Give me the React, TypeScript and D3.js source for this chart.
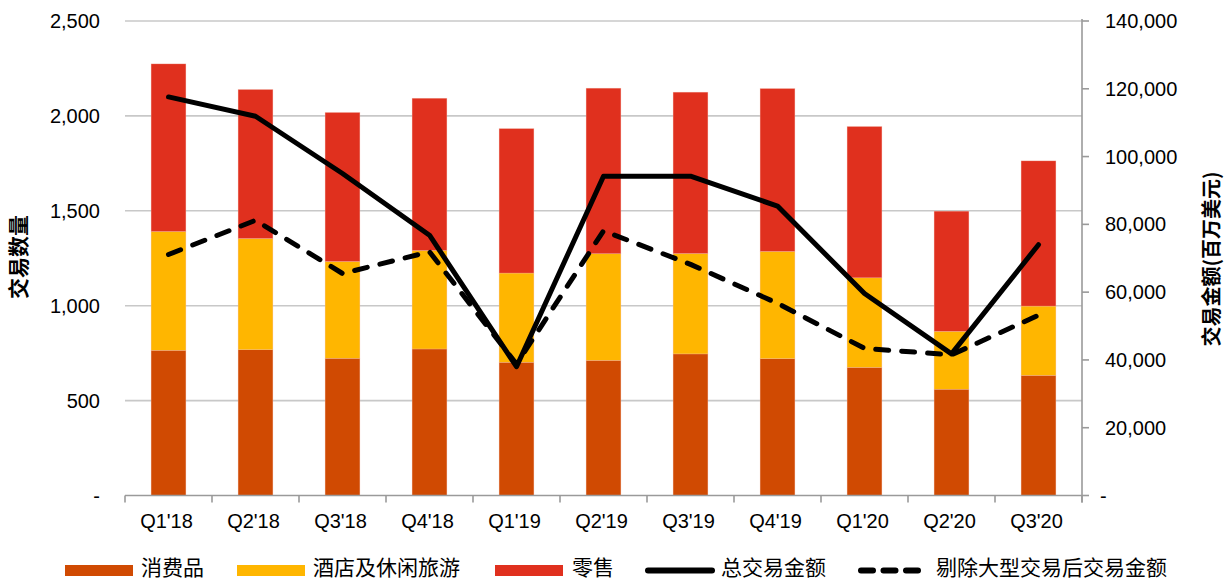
import React from "react";
import * as d3 from "d3";

// Quarterly deal counts by sector (left axis) and deal value in USD millions (right axis)
const categories = ["Q1'18", "Q2'18", "Q3'18", "Q4'18", "Q1'19", "Q2'19", "Q3'19", "Q4'19", "Q1'20", "Q2'20", "Q3'20"];
const consumerCounts = [765, 768, 723, 772, 702, 712, 746, 721, 675, 560, 633];
const hospitalityCounts = [626, 586, 510, 519, 470, 562, 529, 565, 472, 305, 365];
const retailCounts = [883, 785, 785, 802, 761, 872, 850, 858, 797, 633, 765];
const totalValue = [117600, 111900, 95000, 76800, 38000, 94200, 94200, 85400, 59600, 41800, 74000];
const valueExMega = [71100, 81200, 65500, 71900, 38800, 78100, 68200, 56700, 43400, 41500, 53200];

const leftTicks = [0, 500, 1000, 1500, 2000, 2500];
const rightTicks = [0, 20000, 40000, 60000, 80000, 100000, 120000, 140000];

const seriesNames = ["消费品", "酒店及休闲旅游", "零售"];
const lineNames = ["总交易金额", "剔除大型交易后交易金额"];
const leftTitle = "交易数量";
const rightTitle = "交易金额(百万美元)";

const COLORS = ["#D04A02", "#FFB600", "#E0301E"];

const W = 1231;
const H = 582;
const X0 = 125;
const X1 = 1082;
const Y0 = 495.5;
const Y1 = 21;

const LATIN = "'Liberation Sans', Arial, Helvetica, sans-serif";
const CJK = "'Noto Sans CJK SC', 'Noto Sans', sans-serif";

export default function App() {
  const x = d3.scaleBand<string>().domain(categories).range([X0, X1]).paddingInner(0.6).paddingOuter(0.3);
  const yL = d3.scaleLinear().domain([0, 2500]).range([Y0, Y1]);
  const yR = d3.scaleLinear().domain([0, 140000]).range([Y0, Y1]);
  const fmt = d3.format(",");
  const tickText = (v: number) => (v === 0 ? "-" : fmt(v));

  const rows = categories.map((c, i) => ({
    cat: c,
    consumer: consumerCounts[i],
    hospitality: hospitalityCounts[i],
    retail: retailCounts[i],
  }));
  const stacked = d3.stack<any>().keys(["consumer", "hospitality", "retail"])(rows);

  const step = x.step();
  const cx = (c: string) => (x(c) as number) + x.bandwidth() / 2;
  const line = d3
    .line<number>()
    .x((_, i) => cx(categories[i]))
    .y((v) => yR(v));

  // legend layout
  const legendY = 570.5;
  const legendText = 575;
  const rectLegend = [
    { x: 65, tx: 141, name: seriesNames[0], color: COLORS[0] },
    { x: 237, tx: 313, name: seriesNames[1], color: COLORS[1] },
    { x: 495, tx: 572, name: seriesNames[2], color: COLORS[2] },
  ];

  return (
    <svg
      width={W}
      height={H}
      style={{ position: "absolute", left: 0, top: 0, background: "#fff" }}
    >
      {/* gridlines */}
      {leftTicks.filter((t) => t > 0).map((t) => (
        <line key={t} x1={X0} x2={X1} y1={yL(t)} y2={yL(t)} stroke="#C8C8C8" strokeWidth={1.6} />
      ))}

      {/* stacked bars */}
      {stacked.map((layer, li) => (
        <g key={layer.key} fill={COLORS[li]}>
          {layer.map((d, i) => (
            <rect
              key={i}
              x={x(categories[i])}
              width={x.bandwidth()}
              y={yL(d[1])}
              height={yL(d[0]) - yL(d[1])}
              stroke="#F3B7A8"
              strokeWidth={0.5}
              strokeOpacity={0.6}
            />
          ))}
        </g>
      ))}

      {/* x axis */}
      <line x1={X0} x2={X1} y1={Y0} y2={Y0} stroke="#9A9A9A" strokeWidth={1.6} />
      {d3.range(categories.length + 1).map((i) => (
        <line key={i} x1={X0 + i * step} x2={X0 + i * step} y1={Y0} y2={Y0 + 7} stroke="#9A9A9A" strokeWidth={1.6} />
      ))}
      {categories.map((c) => (
        <text key={c} x={cx(c) - 2} y={528} textAnchor="middle" fontFamily={LATIN} fontSize={20} fill="#000">
          {c}
        </text>
      ))}

      {/* left axis labels */}
      {leftTicks.map((t) => (
        <text key={t} x={100} y={yL(t) + 7} textAnchor="end" fontFamily={LATIN} fontSize={20} fill="#000">
          {tickText(t)}
        </text>
      ))}
      <text
        transform={`translate(26, 257) rotate(-90)`}
        textAnchor="middle"
        fontFamily={CJK}
        fontWeight="bold"
        fontSize={21}
        fill="#000"
      >
        {leftTitle}
      </text>

      {/* right axis */}
      <line x1={X1} x2={X1} y1={Y1 - 2} y2={Y0 + 7} stroke="#9A9A9A" strokeWidth={1.6} />
      {rightTicks.map((t) => (
        <g key={t}>
          <line x1={X1} x2={X1 + 7} y1={yR(t)} y2={yR(t)} stroke="#9A9A9A" strokeWidth={1.6} />
          <text x={t === 0 ? 1100 : 1105} y={yR(t) + 7} textAnchor="start" fontFamily={LATIN} fontSize={20} fill="#000">
            {tickText(t)}
          </text>
        </g>
      ))}
      <text
        transform={`translate(1219, 259) rotate(-90)`}
        textAnchor="middle"
        fontFamily={CJK}
        fontWeight="bold"
        fontSize={20}
        fill="#000"
      >
        {rightTitle}
      </text>

      {/* value lines */}
      <path d={line(valueExMega) || ""} fill="none" stroke="#000" strokeWidth={5} strokeDasharray="13 13" strokeLinecap="round" strokeLinejoin="round" />
      <path d={line(totalValue) || ""} fill="none" stroke="#000" strokeWidth={5} strokeLinecap="round" strokeLinejoin="round" />

      {/* legend */}
      {rectLegend.map((l) => (
        <g key={l.name}>
          <rect x={l.x} y={legendY - 5.5} width={68} height={11} fill={l.color} />
          <text x={l.tx} y={legendText} fontFamily={CJK} fontSize={21} fill="#000">
            {l.name}
          </text>
        </g>
      ))}
      <line x1={648} x2={712} y1={legendY} y2={legendY} stroke="#000" strokeWidth={6} strokeLinecap="round" />
      <text x={721} y={legendText} fontFamily={CJK} fontSize={21} fill="#000">
        {lineNames[0]}
      </text>
      <line x1={861} x2={922} y1={legendY} y2={legendY} stroke="#000" strokeWidth={6} strokeLinecap="round" strokeDasharray="12 10.5" />
      <text x={936} y={legendText} fontFamily={CJK} fontSize={21} fill="#000">
        {lineNames[1]}
      </text>
    </svg>
  );
}
